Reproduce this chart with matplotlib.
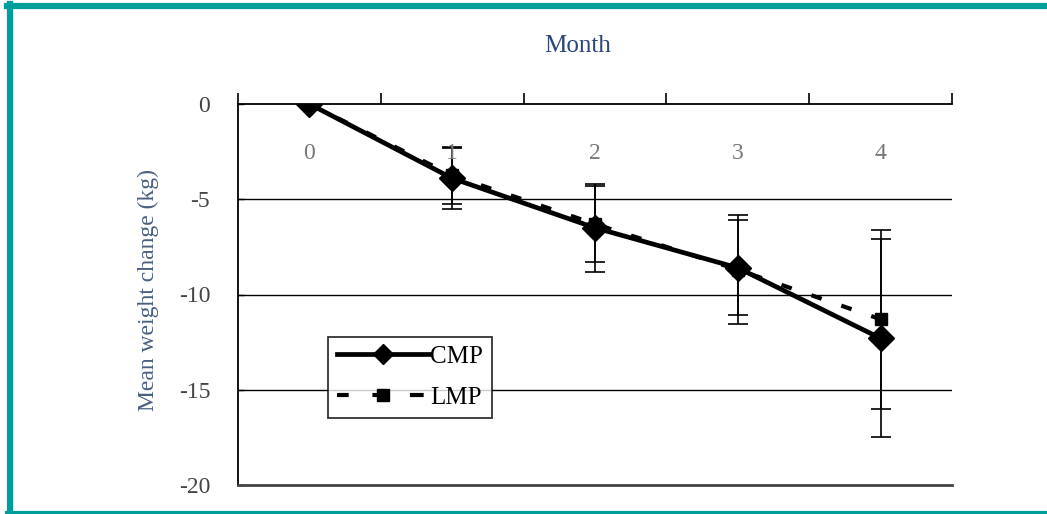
import matplotlib
matplotlib.use('Agg')
import matplotlib.pyplot as plt
from matplotlib.lines import Line2D
import numpy as np

months = [0, 1, 2, 3, 4]
month_labels = ['0', '1', '2', '3', '4']
cmp_mean = [0, -3.9, -6.5, -8.6, -12.3]
cmp_sd = [0, 1.6, 2.3, 2.5, 5.2]
lmp_mean = [0, -3.75, -6.3, -8.7, -11.3]
lmp_sd = [0, 1.5, 2.0, 2.85, 4.7]
y_ticks = [0, -5, -10, -15, -20]

params = {'font.family': 'Liberation Serif'}
matplotlib.rcParams.update(params)

fig = plt.figure(figsize=(10.47, 5.14), dpi=100)
ax = fig.add_axes([238/1047, 29/514, 714/1047, 381/514])

# teal frame round the whole picture
teal = '#009e9a'
fig.add_artist(Line2D([7/1047, 1.01], [1-6/514, 1-6/514], color=teal, lw=4.5, transform=fig.transFigure))
fig.add_artist(Line2D([9.5/1047, 9.5/1047], [0, 1-4/514], color=teal, lw=4.5, transform=fig.transFigure))
fig.add_artist(Line2D([7/1047, 1.01], [1.5/514, 1.5/514], color=teal, lw=3, transform=fig.transFigure))

for y in y_ticks[1:4]:
    ax.axhline(y, color='black', lw=1.0, zorder=1)

x = np.array(months)
ax.errorbar(x, lmp_mean, yerr=lmp_sd, color='black', lw=1.2, capsize=7, capthick=1.2,
            fmt='none', zorder=2)
ax.errorbar(x, cmp_mean, yerr=cmp_sd, color='black', lw=1.2, capsize=7, capthick=1.2,
            fmt='none', zorder=2)
ax.plot(x, lmp_mean, color='black', lw=3, ls=(0, (2.6, 5)), marker='s', ms=9, zorder=3)
ax.plot(x, cmp_mean, color='black', lw=3.4, marker='D', ms=13, zorder=4)

ax.set_xlim(-0.5, 4.5)
ax.set_ylim(-20, 0)
ax.set_yticks(y_ticks)
ax.set_yticklabels([str(v) for v in y_ticks], color='#444444', fontsize=17)
ax.tick_params(axis='y', direction='in', length=4, width=1, pad=20)

ax.set_xticks(x)
ax.tick_params(axis='x', which='major', length=0, top=False, bottom=False,
               labeltop=False, labelbottom=False)
for xi, lab in zip(x, month_labels):
    ax.text(xi, -2.6, lab, ha='center', va='center', color='#777777', fontsize=17)

ax.set_xticks(np.arange(-0.5, 4.6, 1.0), minor=True)
ax.tick_params(axis='x', which='minor', top=True, bottom=False, direction='out',
               length=8, width=1.2)

ax.spines['right'].set_visible(False)
ax.spines['top'].set_linewidth(1.3)
ax.spines['left'].set_linewidth(1.3)
ax.spines['bottom'].set_color('#444444')
ax.spines['bottom'].set_linewidth(2)

fig.text(578/1047, 1-46/514, 'Month', ha='center', va='center', color='#2c4676', fontsize=18)
fig.text(148/1047, 1-290/514, 'Mean weight change (kg)', ha='center', va='center',
         rotation=90, color='#4a5e80', fontsize=17)

h_cmp = Line2D([], [], color='black', lw=3.4, marker='D', ms=10)
h_lmp = Line2D([], [], color='black', lw=3, ls=(0.5, (3.3, 5.7)), marker='s', ms=9)
leg = ax.legend([h_cmp, h_lmp], ['CMP', 'LMP'], loc='lower left',
                bbox_to_anchor=(0.126, 0.176), fontsize=18, frameon=True,
                fancybox=False, edgecolor='black', handlelength=3.7, numpoints=1,
                handletextpad=0.05, borderpad=0.35, labelspacing=0.75,
                borderaxespad=0)
leg.get_frame().set_linewidth(1.3)
leg.set_zorder(5)

plt.savefig('out.png', dpi=100)
